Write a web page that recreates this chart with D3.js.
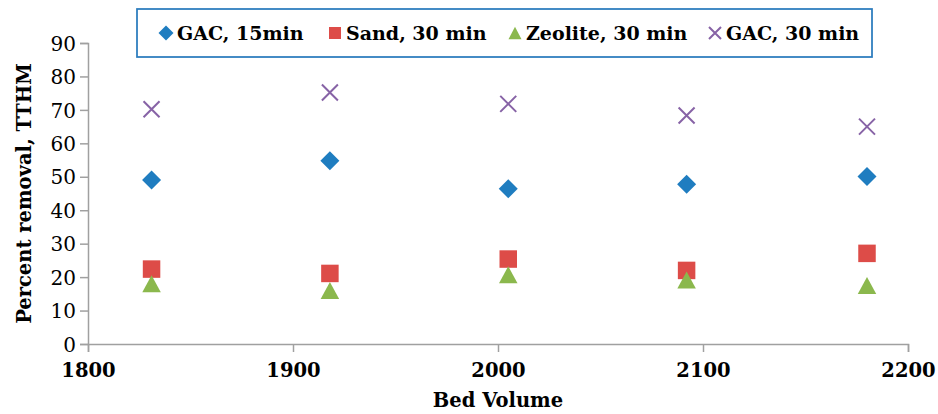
<!DOCTYPE html>
<html>
<head>
<meta charset="utf-8">
<script src="https://cdn.jsdelivr.net/npm/d3@7"></script>
<style>
  body { margin: 0; background: #fff; }
  svg text { font-family: "DejaVu Serif", "Liberation Serif", serif; fill: #000; }
</style>
</head>
<body>
<div id="chart"></div>
<script>
// Bed volumes (x) and percent removal for each series
var bedVolume = [1831, 1918, 2005, 2092, 2180];
var gac15 = [49.0, 54.8, 46.4, 47.8, 50.1];
var sand30 = [22.4, 21.1, 25.4, 22.0, 27.1];
var zeolite30 = [18.0, 16.0, 20.7, 19.1, 17.5];
var gac30 = [70.2, 75.2, 71.8, 68.3, 65.0];

var seriesNames = ["GAC, 15min", "Sand, 30 min", "Zeolite, 30 min", "GAC, 30 min"];
var xTicks = [1800, 1900, 2000, 2100, 2200];
var yTicks = [0, 10, 20, 30, 40, 50, 60, 70, 80, 90];

var width = 938, height = 414;
var margin = { top: 43, right: 30, bottom: 70, left: 88 };

var svg = d3.select("#chart").append("svg")
    .attr("width", width)
    .attr("height", height);

var x = d3.scaleLinear().domain([1800, 2200]).range([margin.left, width - margin.right]);
var y = d3.scaleLinear().domain([0, 90]).range([height - margin.bottom, margin.top]);

// marker shapes, drawn around (0,0)
function diamond(r) { return "M0," + (-r) + "L" + r + ",0L0," + r + "L" + (-r) + ",0Z"; }
function square(s) { var h = s / 2; return "M" + (-h) + "," + (-h) + "h" + s + "v" + s + "h" + (-s) + "Z"; }
function triangle(w, h) { return "M0," + (-h / 2) + "L" + (w / 2) + "," + (h / 2) + "L" + (-w / 2) + "," + (h / 2) + "Z"; }
function cross(s) { var h = s / 2; return "M" + (-h) + "," + (-h) + "L" + h + "," + h + "M" + (-h) + "," + h + "L" + h + "," + (-h); }

var series = [
    { name: seriesNames[0], values: gac15, color: "#1f7dc0", shape: diamond(9.5), legendShape: diamond(7.5), stroke: false },
    { name: seriesNames[1], values: sand30, color: "#dd4c48", shape: square(17.5), legendShape: square(12), stroke: false },
    { name: seriesNames[2], values: zeolite30, color: "#8bb84d", shape: triangle(18.5, 17), legendShape: triangle(13, 12.5), stroke: false },
    { name: seriesNames[3], values: gac30, color: "#8763a6", shape: cross(16), legendShape: cross(12), stroke: true }
];

// axes
var axisColor = "#a0a0a0";
var xAxis = svg.append("g")
    .attr("transform", "translate(0," + y(0) + ")")
    .call(d3.axisBottom(x).tickValues(xTicks).tickFormat(d3.format("d")).tickSizeOuter(0).tickSize(8).tickPadding(7));
var yAxis = svg.append("g")
    .attr("transform", "translate(" + margin.left + ",0)")
    .call(d3.axisLeft(y).tickValues(yTicks).tickSizeOuter(0).tickSize(8).tickPadding(4));

svg.selectAll(".domain, .tick line").attr("stroke", axisColor).attr("stroke-width", 1.5);
xAxis.selectAll("text").style("font-size", "19.5px").style("font-weight", "bold").attr("dy", "0.9em");
yAxis.selectAll("text").style("font-size", "20px").attr("dy", "0.36em");

// axis titles
svg.append("text")
    .attr("x", (x(1800) + x(2200)) / 2)
    .attr("y", 407)
    .attr("text-anchor", "middle")
    .style("font-size", "19.5px")
    .style("font-weight", "bold")
    .text("Bed Volume");

svg.append("text")
    .attr("transform", "translate(31," + (y(0) + y(90)) / 2 + ") rotate(-90)")
    .attr("text-anchor", "middle")
    .style("font-size", "19.5px")
    .style("font-weight", "bold")
    .text("Percent removal, TTHM");

// points
series.forEach(function(s) {
    svg.selectAll(null)
        .data(s.values)
        .enter().append("path")
        .attr("transform", function(d, i) { return "translate(" + x(bedVolume[i]) + "," + y(d) + ")"; })
        .attr("d", s.shape)
        .attr("fill", s.stroke ? "none" : s.color)
        .attr("stroke", s.stroke ? s.color : "none")
        .attr("stroke-width", 2);
});

// legend
var legendBox = { x: 137, y: 9, w: 735, h: 48 };
var legendX = [166, 335, 515, 715];
var legendG = svg.append("g");
legendG.append("rect")
    .attr("x", legendBox.x)
    .attr("y", legendBox.y)
    .attr("width", legendBox.w)
    .attr("height", legendBox.h)
    .attr("fill", "#fff")
    .attr("stroke", "#2b7bbd")
    .attr("stroke-width", 1.75);

var item = legendG.selectAll(".legend")
    .data(series)
    .enter().append("g")
    .attr("class", "legend")
    .attr("transform", function(d, i) { return "translate(" + legendX[i] + "," + (legendBox.y + legendBox.h / 2) + ")"; });

item.append("path")
    .attr("d", function(d) { return d.legendShape; })
    .attr("fill", function(d) { return d.stroke ? "none" : d.color; })
    .attr("stroke", function(d) { return d.stroke ? d.color : "none"; })
    .attr("stroke-width", 2);

item.append("text")
    .attr("x", 11)
    .attr("dy", "0.36em")
    .style("font-size", "19px")
    .style("font-weight", "bold")
    .text(function(d) { return d.name; });
</script>
</body>
</html>
